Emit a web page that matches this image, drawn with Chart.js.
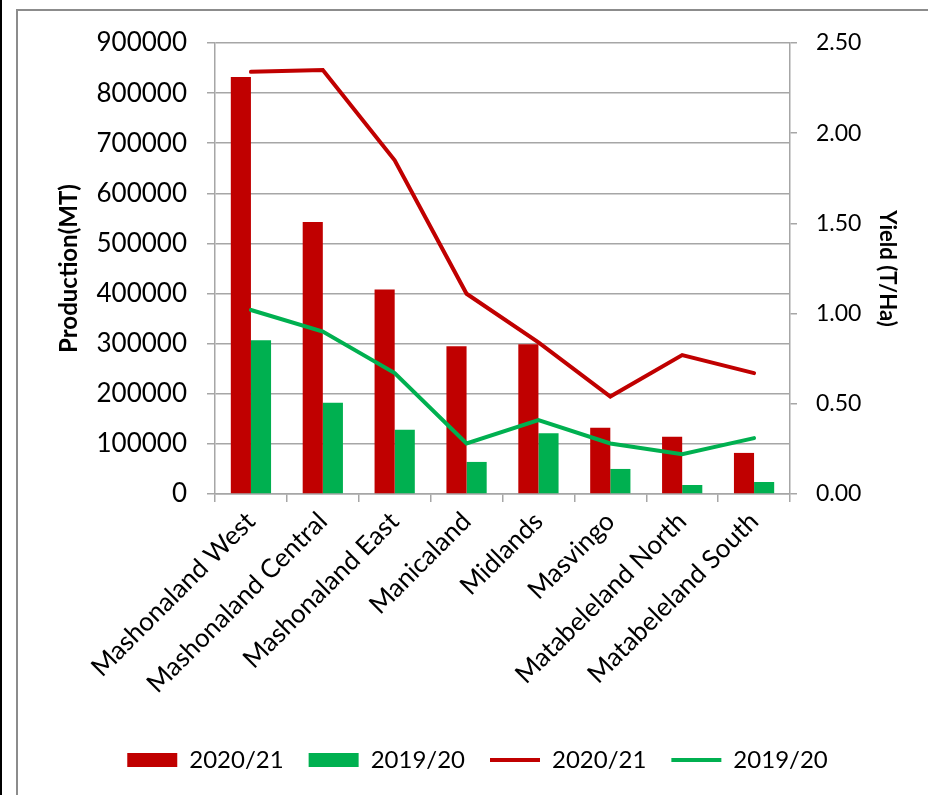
<!DOCTYPE html>
<html>
<head>
<meta charset="utf-8">
<script src="https://cdn.jsdelivr.net/npm/chart.js@4"></script>
<style>
  html, body { margin: 0; padding: 0; background: #fff; }
  #wrap { position: relative; width: 928px; height: 795px; overflow: hidden; }
  #blackEdge { position: absolute; left: 0; top: 0; width: 2px; height: 795px; background: #000; }
  #frame { position: absolute; left: 16px; top: 9px; width: 940px; height: 800px; border-left: 2px solid #8c8c8c; border-top: 2px solid #8c8c8c; }
  canvas { position: absolute; left: 0; top: 0; }
</style>
</head>
<body>
<div id="wrap">
  <div id="blackEdge"></div>
  <div id="frame"></div>
  <canvas id="grafico" width="928" height="795"></canvas>
</div>
<script>
// provincias
const provinces = ['Mashonaland West', 'Mashonaland Central', 'Mashonaland East', 'Manicaland',
                   'Midlands', 'Masvingo', 'Matabeleland North', 'Matabeleland South'];

// produccion (MT)
const production2021 = [832000, 543000, 408000, 295000, 299000, 132000, 114000, 82000];
const production1920 = [307000, 182000, 128000, 64000, 121000, 50000, 18000, 24000];

// rendimiento (T/Ha)
const yield2021 = [2.34, 2.35, 1.85, 1.11, 0.84, 0.54, 0.77, 0.67];
const yield1920 = [1.02, 0.90, 0.67, 0.28, 0.41, 0.28, 0.22, 0.31];

const seasonLabels = ['2020/21', '2019/20'];

const rojo = '#C00000';
const verde = '#00B050';
const gris = '#A6A6A6';
const fuente = 'Lato, "Liberation Sans", sans-serif';

Chart.defaults.font.family = fuente;
Chart.defaults.color = '#000000';

let ctx = document.getElementById('grafico').getContext('2d');
let chart = new Chart(ctx, {
    type: 'bar',
    data: {
        labels: provinces,
        datasets: [
            {
                label: seasonLabels[0],
                data: production2021,
                backgroundColor: rojo,
                borderWidth: 0,
                yAxisID: 'y',
                order: 2,
                pointStyle: 'rect',
                categoryPercentage: 0.56,
                barPercentage: 1
            },
            {
                label: seasonLabels[1],
                data: production1920,
                backgroundColor: verde,
                borderWidth: 0,
                yAxisID: 'y',
                order: 2,
                pointStyle: 'rect',
                categoryPercentage: 0.56,
                barPercentage: 1
            },
            {
                type: 'line',
                label: seasonLabels[0],
                data: yield2021,
                borderColor: rojo,
                backgroundColor: rojo,
                borderWidth: 4,
                pointRadius: 0,
                pointStyle: 'line',
                tension: 0,
                borderCapStyle: 'round',
                yAxisID: 'y1',
                order: 1
            },
            {
                type: 'line',
                label: seasonLabels[1],
                data: yield1920,
                borderColor: verde,
                backgroundColor: verde,
                borderWidth: 4,
                pointRadius: 0,
                pointStyle: 'line',
                tension: 0,
                borderCapStyle: 'round',
                yAxisID: 'y1',
                order: 1
            }
        ]
    },
    options: {
        responsive: false,
        animation: false,
        layout: {
            padding: { left: 55, right: 28, top: 43, bottom: 13 }
        },
        scales: {
            x: {
                grid: {
                    display: true,
                    drawOnChartArea: false,
                    drawTicks: true,
                    tickLength: 8,
                    color: gris,
                    lineWidth: 1.5
                },
                border: { display: true, color: gris, width: 1.5 },
                ticks: {
                    minRotation: 45,
                    maxRotation: 45,
                    padding: 4,
                    font: { size: 26 }
                },
                afterFit: function(scale) { scale.height = 229; }
            },
            y: {
                position: 'left',
                min: 0,
                max: 900000,
                ticks: {
                    stepSize: 100000,
                    padding: 20,
                    font: { size: 26 },
                    callback: function(v) { return v.toString(); }
                },
                grid: {
                    color: gris,
                    lineWidth: 1.5,
                    tickLength: 8
                },
                border: { display: true, color: gris, width: 1.5 },
                title: {
                    display: true,
                    text: 'Production(MT)',
                    font: { size: 24, weight: 'bold' },
                    padding: 0
                },
                afterFit: function(scale) { scale.width = 160; }
            },
            y1: {
                position: 'right',
                min: 0,
                max: 2.5,
                ticks: {
                    stepSize: 0.5,
                    padding: 19,
                    font: { size: 23 },
                    callback: function(v) { return v.toFixed(2); }
                },
                grid: {
                    drawOnChartArea: false,
                    color: gris,
                    lineWidth: 1.5,
                    tickLength: 7
                },
                border: { display: true, color: gris, width: 1.5 },
                title: {
                    display: true,
                    text: 'Yield (T/Ha)',
                    font: { size: 22, weight: 'bold' },
                    padding: 0
                },
                afterFit: function(scale) { scale.width = 110; }
            }
        },
        plugins: {
            legend: {
                position: 'bottom',
                labels: {
                    usePointStyle: true,
                    pointStyleWidth: 50,
                    boxHeight: 14,
                    padding: 25,
                    font: { size: 24 },
                    color: '#000',
                    sort: function(a, b) { return a.datasetIndex - b.datasetIndex; }
                }
            },
            tooltip: { enabled: false }
        }
    }
});
</script>
</body>
</html>
